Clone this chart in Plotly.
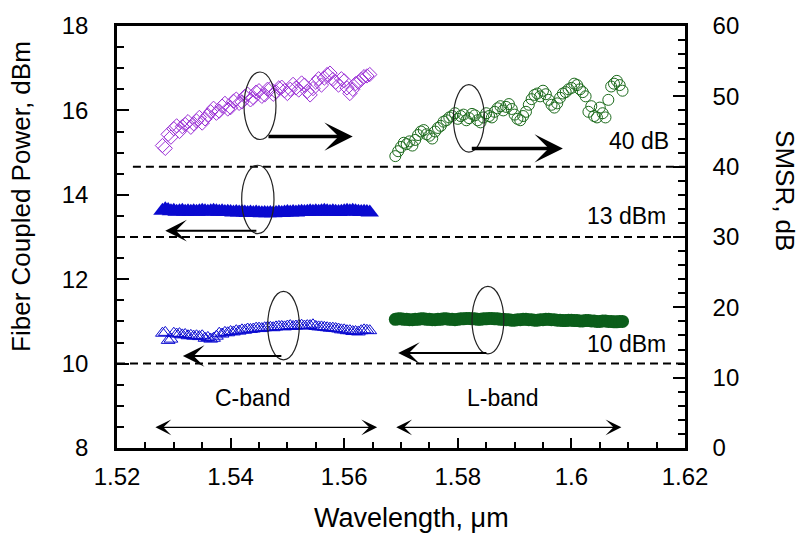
import plotly.graph_objects as go

# ---------------- data ----------------
wl_c = [1.5280, 1.5285, 1.5290, 1.5295, 1.5300, 1.5305, 1.5310, 1.5315, 1.5320, 1.5325,
        1.5330, 1.5335, 1.5340, 1.5345, 1.5350, 1.5355, 1.5360, 1.5365, 1.5370, 1.5375,
        1.5380, 1.5385, 1.5390, 1.5395, 1.5400, 1.5405, 1.5410, 1.5415, 1.5420, 1.5425,
        1.5430, 1.5435, 1.5440, 1.5445, 1.5450, 1.5455, 1.5460, 1.5465, 1.5470, 1.5475,
        1.5480, 1.5485, 1.5490, 1.5495, 1.5500, 1.5505, 1.5510, 1.5515, 1.5520, 1.5525,
        1.5530, 1.5535, 1.5540, 1.5545, 1.5550, 1.5555, 1.5560, 1.5565, 1.5570, 1.5575,
        1.5580, 1.5585, 1.5590, 1.5595, 1.5600, 1.5605, 1.5610, 1.5615, 1.5620, 1.5625,
        1.5630, 1.5635, 1.5640, 1.5645]
wl_l = [1.5690, 1.5695, 1.5700, 1.5705, 1.5710, 1.5715, 1.5720, 1.5725, 1.5730, 1.5735,
        1.5740, 1.5745, 1.5750, 1.5755, 1.5760, 1.5765, 1.5770, 1.5775, 1.5780, 1.5785,
        1.5790, 1.5795, 1.5800, 1.5805, 1.5810, 1.5815, 1.5820, 1.5825, 1.5830, 1.5835,
        1.5840, 1.5845, 1.5850, 1.5855, 1.5860, 1.5865, 1.5870, 1.5875, 1.5880, 1.5885,
        1.5890, 1.5895, 1.5900, 1.5905, 1.5910, 1.5915, 1.5920, 1.5925, 1.5930, 1.5935,
        1.5940, 1.5945, 1.5950, 1.5955, 1.5960, 1.5965, 1.5970, 1.5975, 1.5980, 1.5985,
        1.5990, 1.5995, 1.6000, 1.6005, 1.6010, 1.6015, 1.6020, 1.6025, 1.6030, 1.6035,
        1.6040, 1.6045, 1.6050, 1.6055, 1.6060, 1.6065, 1.6070, 1.6075, 1.6080, 1.6085,
        1.6090]

# SMSR (dB, right axis)
smsr_c = [43.0, 42.6, 44.6, 44.2, 45.4, 45.8, 45.0, 45.7, 46.0, 46.4,
          45.6, 46.1, 46.5, 47.0, 46.2, 46.8, 47.3, 47.8, 48.3, 47.6,
          47.9, 48.6, 49.0, 48.2, 48.4, 49.3, 49.6, 49.0, 49.2, 50.0,
          50.3, 49.5, 49.8, 50.6, 50.8, 50.0, 50.2, 51.0, 51.1, 50.3,
          50.6, 51.2, 51.3, 50.8, 50.4, 51.0, 51.7, 51.2, 50.9, 51.9,
          51.6, 50.7, 50.2, 51.1, 52.0, 52.5, 51.6, 52.6, 53.1, 53.3,
          52.4, 52.0, 51.6, 52.5, 52.2, 51.2, 50.4, 51.0, 51.8, 52.0,
          52.4, 52.8, 52.9, 53.1]
smsr_l = [41.5, 42.2, 42.8, 43.4, 43.2, 43.6, 43.0, 43.8, 44.5, 45.0,
          45.2, 44.6, 44.4, 44.0, 45.0, 45.5, 45.8, 46.4, 46.6, 47.0,
          47.2, 47.6, 46.8, 47.2, 47.4, 46.6, 46.9, 47.5, 47.3, 46.6,
          46.3, 47.0, 47.6, 47.2, 47.0, 47.8, 48.3, 48.6, 48.0, 48.5,
          48.9, 48.2, 47.4, 46.8, 46.6, 47.2, 47.8, 48.8, 49.6, 50.2,
          50.4, 50.0, 50.8, 50.3, 49.5, 48.8, 48.4, 49.0, 49.8, 50.4,
          50.6, 51.0, 51.2, 51.8, 51.6, 51.0, 50.6, 50.0, 47.8, 48.6,
          47.2, 47.0, 48.4, 47.6, 47.0, 49.5, 51.4, 51.8, 52.2, 51.6,
          50.8]

# Fiber coupled power (dBm, left axis)
pow13_c = [13.62, 13.66, 13.64, 13.61, 13.62, 13.60, 13.61, 13.62, 13.60, 13.61,
           13.60, 13.61, 13.60, 13.61, 13.62, 13.61, 13.60, 13.61, 13.62, 13.61,
           13.60, 13.61, 13.59, 13.60, 13.59, 13.58, 13.59, 13.58, 13.59, 13.58,
           13.57, 13.58, 13.57, 13.58, 13.57, 13.56, 13.57, 13.56, 13.57, 13.56,
           13.57, 13.58, 13.57, 13.58, 13.59, 13.58, 13.59, 13.58, 13.59, 13.60,
           13.59, 13.60, 13.61, 13.60, 13.61, 13.60, 13.61, 13.62, 13.61, 13.60,
           13.61, 13.60, 13.59, 13.60, 13.61, 13.62, 13.61, 13.62, 13.61, 13.60,
           13.59, 13.60, 13.59, 13.58]
pow10_c = [10.72, 10.74, 10.55, 10.58, 10.72, 10.70, 10.71, 10.68, 10.69, 10.66,
           10.67, 10.65, 10.66, 10.64, 10.66, 10.60, 10.62, 10.58, 10.60, 10.65,
           10.72, 10.70, 10.74, 10.73, 10.76, 10.75, 10.78, 10.77, 10.80, 10.79,
           10.82, 10.81, 10.82, 10.84, 10.84, 10.83, 10.85, 10.86, 10.86, 10.85,
           10.87, 10.88, 10.88, 10.87, 10.89, 10.90, 10.88, 10.89, 10.90, 10.91,
           10.89, 10.90, 10.90, 10.92, 10.88, 10.87, 10.87, 10.86, 10.85, 10.84,
           10.84, 10.83, 10.82, 10.80, 10.80, 10.78, 10.78, 10.76, 10.76, 10.75,
           10.78, 10.80, 10.79, 10.78]
pow10_l = [11.05, 11.06, 11.06, 11.05, 11.05, 11.04, 11.04, 11.05, 11.05, 11.06,
           11.06, 11.05, 11.05, 11.04, 11.04, 11.05, 11.05, 11.06, 11.06, 11.05,
           11.05, 11.04, 11.05, 11.06, 11.06, 11.07, 11.07, 11.06, 11.06, 11.05,
           11.05, 11.06, 11.06, 11.07, 11.07, 11.06, 11.06, 11.05, 11.05, 11.04,
           11.04, 11.03, 11.03, 11.04, 11.04, 11.05, 11.05, 11.04, 11.04, 11.03,
           11.03, 11.04, 11.04, 11.05, 11.05, 11.04, 11.04, 11.03, 11.03, 11.02,
           11.02, 11.03, 11.03, 11.02, 11.02, 11.01, 11.01, 11.02, 11.02, 11.01,
           11.01, 11.00, 11.00, 11.01, 11.01, 11.00, 11.00, 10.99, 10.99, 11.00,
           11.00]

x_ticks = [1.52, 1.54, 1.56, 1.58, 1.60, 1.62]
x_ticktext = ["1.52", "1.54", "1.56", "1.58", "1.6", "1.62"]

FONT = "Liberation Sans, Arial, sans-serif"
PURPLE = "#9b30d6"
BLUE = "#0a0ad0"
GREEN = "#1d6b1d"
DGREEN = "#0b5e1a"

fig = go.Figure()

fig.add_trace(go.Scatter(x=wl_c, y=smsr_c, yaxis="y2", mode="markers",
                         marker=dict(symbol="diamond-open", size=11, color=PURPLE,
                                     line=dict(width=1, color=PURPLE))))
fig.add_trace(go.Scatter(x=wl_l, y=smsr_l, yaxis="y2", mode="markers",
                         marker=dict(symbol="circle-open", size=11, color=GREEN,
                                     line=dict(width=1, color=GREEN))))
fig.add_trace(go.Scatter(x=wl_c, y=pow13_c, mode="markers",
                         marker=dict(symbol="triangle-up", size=16, color=BLUE,
                                     line=dict(width=0))))
fig.add_trace(go.Scatter(x=wl_c, y=pow10_c, mode="markers",
                         marker=dict(symbol="triangle-up-open", size=12, color=BLUE,
                                     line=dict(width=1, color=BLUE))))
fig.add_trace(go.Scatter(x=wl_l, y=pow10_l, mode="markers",
                         marker=dict(symbol="circle", size=13, color=DGREEN,
                                     line=dict(width=0))))

shapes = []
dash = "8px,5px"
shapes.append(dict(type="line", xref="x", yref="y2", x0=1.5228, x1=1.62, y0=40, y1=40,
                   line=dict(color="black", width=2, dash=dash)))
shapes.append(dict(type="line", xref="x", yref="y", x0=1.52, x1=1.62, y0=13, y1=13,
                   line=dict(color="black", width=2, dash=dash)))
shapes.append(dict(type="line", xref="x", yref="y", x0=1.52, x1=1.62, y0=10, y1=10,
                   line=dict(color="black", width=2, dash=dash)))

ellipses = [
    (1.54236, 1.54799, 15.31, 16.91),
    (1.57923, 1.58468, 15.01, 16.61),
    (1.54195, 1.54764, 13.08, 14.70),
    (1.54653, 1.55210, 10.09, 11.71),
    (1.58250, 1.58810, 10.23, 11.83),
]
for x0, x1, y0, y1 in ellipses:
    shapes.append(dict(type="circle", xref="x", yref="y", x0=x0, x1=x1, y0=y0, y1=y1,
                       line=dict(color="#222222", width=1.2), layer="above"))

annotations = []
# arrows: (head x, head y, tail x, tail y, width, size)
arrows = [
    (1.5615, 15.38, 1.5464, 15.38, 3.5, 1.35),
    (1.5985, 15.10, 1.5822, 15.10, 3.5, 1.35),
    (1.5285, 13.15, 1.5448, 13.15, 2, 1.8),
    (1.5316, 10.18, 1.5492, 10.18, 2, 1.8),
    (1.5695, 10.25, 1.5853, 10.25, 2, 1.8),
]
for hx, hy, tx, ty, w, s in arrows:
    annotations.append(dict(x=hx, y=hy, ax=tx, ay=ty, xref="x", yref="y",
                            axref="x", ayref="y", text="", showarrow=True,
                            arrowhead=3, arrowsize=s, arrowwidth=w,
                            arrowcolor="black", standoff=0, startstandoff=0))
# band double arrows
for x0, x1 in [(1.5265, 1.5658), (1.5689, 1.6088)]:
    annotations.append(dict(x=x1, y=8.49, ax=x0, ay=8.49, xref="x", yref="y",
                            axref="x", ayref="y", text="", showarrow=True,
                            arrowhead=3, startarrowhead=3, arrowside="end+start",
                            arrowsize=2.2, startarrowsize=2.2, arrowwidth=1.2,
                            arrowcolor="black", standoff=0, startstandoff=0))

txtfont = dict(family=FONT, size=23, color="black")
annotations += [
    dict(x=1.5438, y=9.18, xref="x", yref="y", text="C-band", showarrow=False, font=txtfont),
    dict(x=1.5880, y=9.18, xref="x", yref="y", text="L-band", showarrow=False, font=txtfont),
    dict(x=1.6176, y=15.28, xref="x", yref="y", text="40 dB", showarrow=False,
         xanchor="right", font=txtfont),
    dict(x=1.6170, y=13.50, xref="x", yref="y", text="13 dBm", showarrow=False,
         xanchor="right", font=txtfont),
    dict(x=1.6170, y=10.46, xref="x", yref="y", text="10 dBm", showarrow=False,
         xanchor="right", font=txtfont),
]
titlefont = dict(family=FONT, size=26, color="black")
annotations += [
    dict(x=-0.169, y=0.595, xref="paper", yref="paper", text="Fiber Coupled Power, dBm",
         textangle=-90, showarrow=False, font=titlefont, xanchor="center", yanchor="middle"),
    dict(x=1.177, y=0.61, xref="paper", yref="paper", text="SMSR, dB",
         textangle=90, showarrow=False, font=titlefont, xanchor="center", yanchor="middle"),
    dict(x=0.518, y=-0.165, xref="paper", yref="paper", text="Wavelength, \u03bcm",
         showarrow=False, font=dict(family=FONT, size=27, color="black"),
         xanchor="center", yanchor="middle"),
]

tickfont = dict(family=FONT, size=24, color="black")
fig.update_layout(
    width=805, height=539,
    margin=dict(l=117, r=120, t=17, b=91),
    paper_bgcolor="white", plot_bgcolor="white",
    showlegend=False,
    shapes=shapes, annotations=annotations,
    xaxis=dict(range=[1.52, 1.62], tickmode="array", tickvals=x_ticks, ticktext=x_ticktext,
               ticks="inside", ticklen=10, tickwidth=2, tickcolor="black",
               minor=dict(ticks="inside", ticklen=6, tickwidth=1.5, tickcolor="black",
                          tickmode="linear", tick0=1.52, dtick=0.005),
               showline=True, linewidth=2.5, linecolor="black", mirror=True,
               showgrid=False, zeroline=False, tickfont=tickfont, ticklabelstandoff=5),
    yaxis=dict(range=[8, 18], dtick=2, tick0=8,
               ticks="inside", ticklen=12, tickwidth=2, tickcolor="black",
               minor=dict(ticks="inside", ticklen=7, tickwidth=1.5, tickcolor="black",
                          dtick=0.5, tick0=8),
               showline=True, linewidth=2.5, linecolor="black",
               showgrid=False, zeroline=False, tickfont=tickfont, ticklabelstandoff=21),
    yaxis2=dict(range=[0, 60], dtick=10, tick0=0, overlaying="y", side="right",
                ticks="inside", ticklen=12, tickwidth=2, tickcolor="black",
                minor=dict(ticks="inside", ticklen=7, tickwidth=1.5, tickcolor="black",
                           dtick=2, tick0=0),
                showline=True, linewidth=2.5, linecolor="black",
                showgrid=False, zeroline=False, tickfont=tickfont, ticklabelstandoff=20),
)

fig.write_html("out.html")
